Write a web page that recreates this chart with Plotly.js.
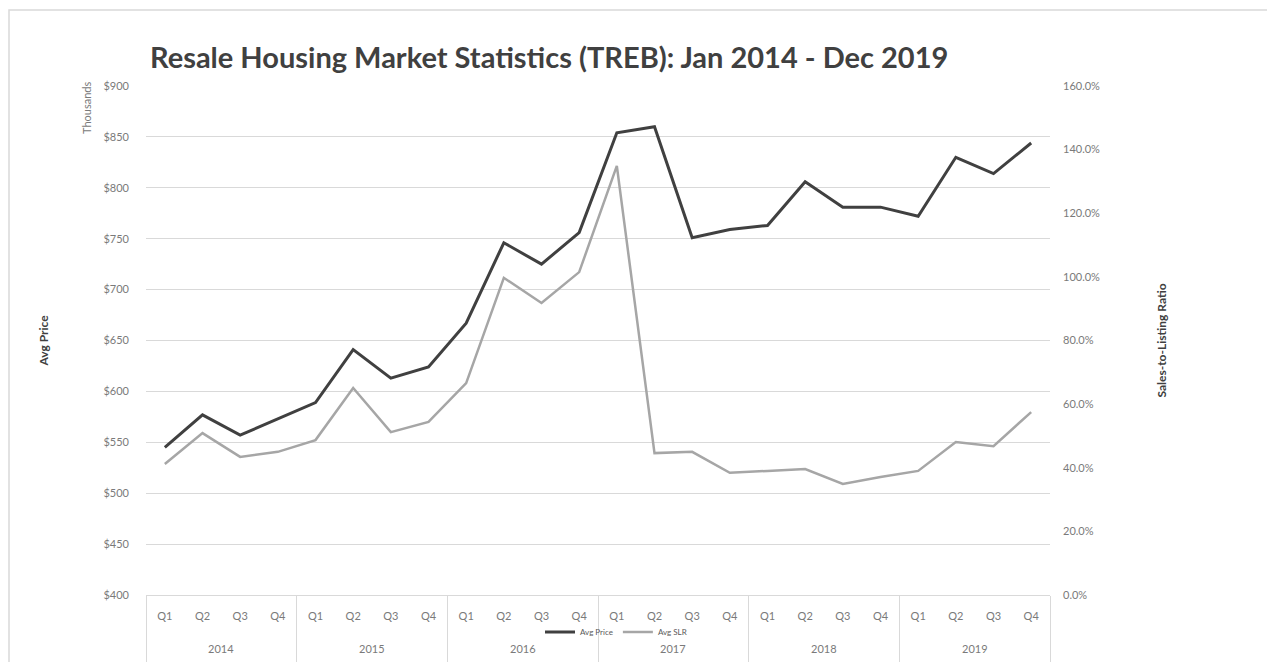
<!DOCTYPE html>
<html>
<head>
<meta charset="utf-8">
<script src="https://cdn.plot.ly/plotly-3.0.1.min.js"></script>
<style>html,body{margin:0;padding:0;background:#fff;}#chart{width:1267px;height:662px;}</style>
</head>
<body>
<div id="chart"></div>
<script>
const years = ["2014","2015","2016","2017","2018","2019"];
const quarters = ["Q1","Q2","Q3","Q4"];
const avgPrice = [545, 577, 557, 573, 589, 641, 613, 624, 667, 746, 725, 756,
                  854, 860, 751, 759, 763, 806, 781, 781, 772, 830, 814, 844];
const avgSLR = [41.2, 50.9, 43.4, 45.0, 48.7, 65.1, 51.2, 54.4, 66.6, 99.7, 91.8, 101.5,
                134.9, 44.6, 45.0, 38.4, 39.0, 39.6, 34.9, 37.1, 39.0, 48.1, 46.8, 57.5];
const leftTicks = [400, 450, 500, 550, 600, 650, 700, 750, 800, 850, 900];
const rightTicks = [0, 20, 40, 60, 80, 100, 120, 140, 160];

// one slot per quarter, in order
const xIdx = [], xQ = [];
years.forEach(y => quarters.forEach(q => { xIdx.push(xIdx.length); xQ.push(q); }));
const nQ = quarters.length;

const W = 1267, H = 662;
const m = {l: 146, r: 217, t: 86, b: 67};
const ph = H - m.t - m.b, pw = W - m.l - m.r;
const px = v => (v - m.l) / pw;
const py = v => (H - m.b - v) / ph;

const FONT = "Lato, 'Open Sans', sans-serif";
const tickFont = {family: FONT, size: 11, color: "#7a7a7a"};

const traces = [
  {x: xIdx, y: avgPrice, name: "Avg Price", type: "scatter", mode: "lines",
   line: {color: "#404040", width: 3}, yaxis: "y"},
  {x: xIdx, y: avgSLR, name: "Avg SLR", type: "scatter", mode: "lines",
   line: {color: "#a6a6a6", width: 2.5}, yaxis: "y2"}
];

const yearAnnotations = years.map((yr, i) => ({
  text: yr, xref: "x", yref: "paper", x: i * nQ + (nQ - 1) / 2, y: py(648),
  showarrow: false, xanchor: "center", yanchor: "middle", font: tickFont
}));

const layout = {
  width: W, height: H,
  margin: m,
  paper_bgcolor: "#ffffff", plot_bgcolor: "#ffffff",
  font: {family: FONT, color: "#595959"},
  title: {text: "Resale Housing Market Statistics (TREB): Jan 2014 - Dec 2019",
          font: {family: FONT, size: 29, color: "#404040", weight: "bold"},
          xref: "container", x: 150 / W, xanchor: "left", yref: "container", y: 1 - 58 / H, yanchor: "middle"},
  xaxis: {type: "linear", range: [-0.5, xIdx.length - 0.5],
          tickvals: xIdx, ticktext: xQ, tickfont: tickFont, ticks: "",
          ticklabelstandoff: 11,
          showgrid: false, zeroline: false,
          showline: true, linecolor: "#d9d9d9", linewidth: 1,
          minor: {tick0: -0.5, dtick: nQ, ticks: "outside", ticklen: 70, tickcolor: "#d9d9d9", tickwidth: 1, showgrid: false},
          fixedrange: true},
  yaxis: {range: [400, 900], tickvals: leftTicks,
          ticktext: leftTicks.map(v => "$" + v), tickfont: tickFont,
          showgrid: true, gridcolor: "#d9d9d9", gridwidth: 1, zeroline: false,
          showline: false, ticks: "", ticklabelstandoff: 16,
          title: {text: "Avg Price", font: {family: FONT, size: 12, color: "#404040", weight: "bold"}, standoff: 52}},
  yaxis2: {range: [0, 160], tickvals: rightTicks,
           ticktext: rightTicks.map(v => v.toFixed(1) + "%"), tickfont: tickFont,
           overlaying: "y", side: "right", showgrid: false, zeroline: false,
           showline: false, ticks: "", ticklabelstandoff: 12,
           title: {text: "Sales-to-Listing Ratio", font: {family: FONT, size: 12, color: "#404040", weight: "bold"}, standoff: 58}},
  legend: {orientation: "h", x: px(540), xanchor: "left", y: py(632), yanchor: "middle",
           bgcolor: "rgba(0,0,0,0)", font: {family: FONT, size: 8, color: "#595959"}, itemwidth: 30,
           tracegroupgap: 0},
  showlegend: true,
  annotations: [
    {text: "Thousands", xref: "paper", yref: "paper", x: px(86), y: py(108),
     textangle: -90, showarrow: false, font: {family: FONT, size: 11, color: "#7a7a7a"},
     xanchor: "center", yanchor: "middle"}
  ].concat(yearAnnotations),
  shapes: [
    {type: "rect", xref: "paper", yref: "paper", x0: px(9), x1: px(1290), y0: py(10), y1: py(700),
     line: {color: "#d9d9d9", width: 1.5}, fillcolor: "rgba(0,0,0,0)", layer: "below"}
  ]
};

Plotly.newPlot("chart", traces, layout, {displayModeBar: false, staticPlot: true});
</script>
</body>
</html>
